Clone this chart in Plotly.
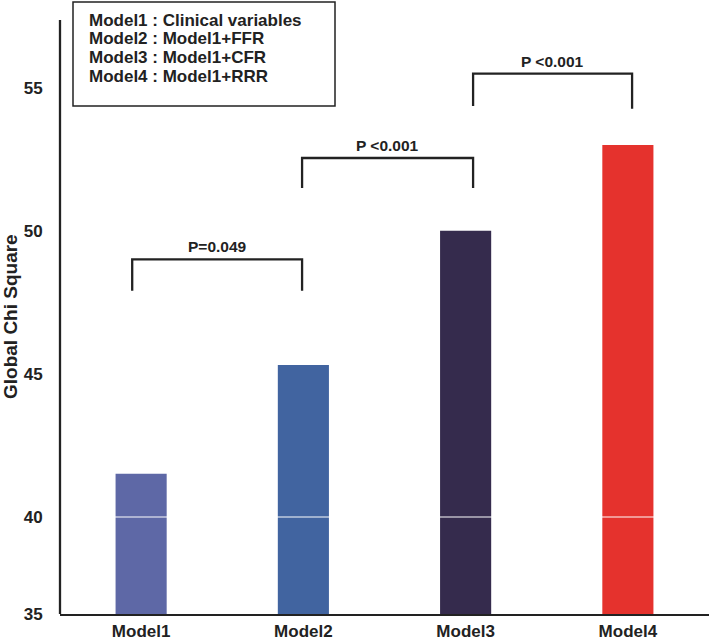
import plotly.graph_objects as go

categories = ["Model1", "Model2", "Model3", "Model4"]
chi_square = [41.5, 45.3, 50.0, 53.0]
bar_colors = ["#5e68a6", "#4164a0", "#352b4d", "#e5322d"]
legend_lines = ["Model1 : Clinical variables", "Model2 : Model1+FFR",
                "Model3 : Model1+CFR", "Model4 : Model1+RRR"]
# comparisons: (left x, right x, bar top y, left end y, right end y, label)
comparisons = [
    (-0.055, 0.992, 49.0, 47.9, 47.9, "P=0.049"),
    (0.992, 2.046, 52.55, 51.5, 51.5, "P <0.001"),
    (2.046, 3.026, 55.5, 54.37, 54.27, "P <0.001"),
]
low_ticks = [35, 40]
high_ticks = [45, 50, 55]

xpos = list(range(len(categories)))
FONT = "Liberation Sans, Arial, sans-serif"
W, H = 709, 643
ml, mr, mt, mb = 60, 0, 20, 29
plot_h = H - mt - mb
plot_w = W - ml - mr
low_frac = 96.5 / plot_h
high_start = 97.5 / plot_h
INK = "#222222"

fig = go.Figure()
# lower segment (35-40)
fig.add_trace(go.Bar(x=xpos, y=chi_square, width=0.315, marker_color=bar_colors,
                     marker_line_width=0, xaxis="x", yaxis="y", showlegend=False))
# upper segment (40-)
fig.add_trace(go.Bar(x=xpos, y=chi_square, width=0.315, marker_color=bar_colors,
                     marker_line_width=0, xaxis="x", yaxis="y2", showlegend=False))

for (xl, xr, yt, yl, yr, label) in comparisons:
    fig.add_trace(go.Scatter(x=[xl, xl, xr, xr], y=[yl, yt, yt, yr], mode="lines",
                             line=dict(color=INK, width=2.3), xaxis="x", yaxis="y2",
                             showlegend=False, hoverinfo="skip"))
    fig.add_annotation(x=(xl + xr) / 2, y=yt, xref="x", yref="y2", text="<b>%s</b>" % label,
                       showarrow=False, yanchor="bottom", yshift=2,
                       font=dict(family=FONT, size=15.5, color=INK))

# legend box
fig.add_shape(type="rect", xref="paper", yref="paper",
              x0=(73 - ml) / plot_w, x1=(335 - ml) / plot_w,
              y0=(H - mb - 106) / plot_h, y1=(H - mb - 2) / plot_h,
              line=dict(color=INK, width=1.5))
line_px = [20, 38.7, 57.3, 76]
for txt, py in zip(legend_lines, line_px):
    fig.add_annotation(x=(87 - ml) / plot_w, y=(H - mb - py) / plot_h,
                       xref="paper", yref="paper", text="<b>%s</b>" % txt, showarrow=False,
                       xanchor="left", yanchor="middle",
                       font=dict(family=FONT, size=17, color=INK))

# y axis title
fig.add_annotation(x=(10 - ml) / plot_w, y=0.5, xref="paper", yref="paper",
                   text="<b>Global Chi Square</b>", textangle=-90, showarrow=False,
                   xanchor="center", yanchor="middle",
                   font=dict(family=FONT, size=19, color=INK))

# continuous y axis line
fig.add_shape(type="line", xref="paper", yref="paper", x0=0, x1=0, y0=0,
              y1=1, line=dict(color=INK, width=2.3))

tickfont = dict(family=FONT, size=17, color=INK, weight="bold")
fig.update_layout(
    width=W, height=H,
    margin=dict(l=ml, r=mr, t=mt, b=mb, autoexpand=False),
    plot_bgcolor="white", paper_bgcolor="white",
    barmode="overlay",
    font=dict(family=FONT, color=INK),
    xaxis=dict(range=[-0.5, 3.5], tickvals=xpos, ticktext=categories,
               showline=True, linecolor=INK, linewidth=2.3,
               showgrid=False, zeroline=False, ticks="",
               tickfont=tickfont, anchor="y", automargin=False),
    yaxis=dict(domain=[0, low_frac], range=[35, 40], tickvals=low_ticks,
               showline=False, showgrid=False, zeroline=False,
               ticks="outside", ticklen=13, tickcolor="rgba(0,0,0,0)",
               tickfont=tickfont, anchor="x", automargin=False),
    yaxis2=dict(domain=[high_start, 1], range=[40, 57.38], tickvals=high_ticks,
                showline=False, showgrid=False, zeroline=False,
                ticks="outside", ticklen=13, tickcolor="rgba(0,0,0,0)",
                tickfont=tickfont, anchor="x", automargin=False),
)
fig.write_html("out.html", config={"displayModeBar": False},
               post_script="document.body.style.margin='0';document.body.style.padding='0';")
